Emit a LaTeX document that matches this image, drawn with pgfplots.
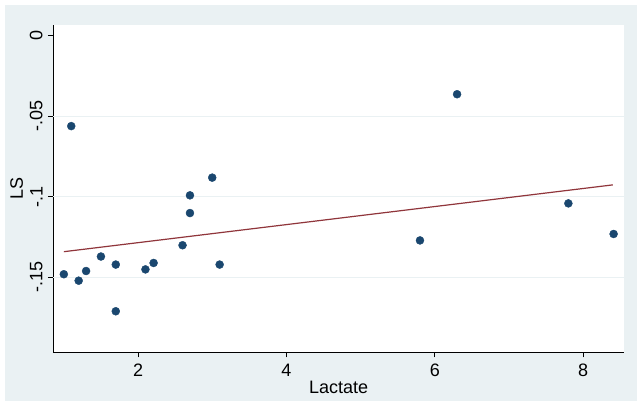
\documentclass[border=0pt]{standalone}
\usepackage{pgfplots}
\pgfplotsset{compat=1.18}
\usepackage{fontspec}
\setmainfont{Liberation Sans}
\definecolor{bgc}{RGB}{234,241,243}
\definecolor{navy}{RGB}{26,71,111}
\definecolor{maroon}{RGB}{144,53,59}
\definecolor{gridc}{RGB}{234,241,243}
\begin{document}
\begin{tikzpicture}
\fill[white] (-53.3pt,-54pt) rectangle (588.7pt,352pt);
\fill[bgc] (-48.3pt,-49pt) rectangle (583.7pt,347pt);
\begin{axis}[
  at={(0pt,0pt)}, anchor=south west,
  scale only axis, width=570.7pt, height=327pt,
  xmin=0.858, xmax=8.55, ymin=-0.1963, ymax=0.0068,
  enlargelimits=false,
  axis x line*=bottom, axis y line*=left,
  axis line style={black, line width=0.9pt, -},
  axis background/.style={fill=white},
  tick align=outside, major tick length=5.5pt,
  tick style={black, line width=0.9pt},
  xtick={2,4,6,8}, xticklabels={2,4,6,8},
  ytick={0,-0.05,-0.1,-0.15}, yticklabels={0,-.05,-.1,-.15},
  extra y ticks={-0.05,-0.1,-0.15}, extra y tick labels={},
  extra y tick style={grid=major, major tick length=0pt, grid style={gridc, line width=1pt}},
  yticklabel style={font=\fontsize{18}{20}\selectfont, xshift=-5pt, rotate=90, anchor=south, inner sep=0pt},
  xticklabel style={font=\fontsize{18}{20}\selectfont, anchor=north, inner sep=0pt, yshift=-6pt},
  xlabel={Lactate}, ylabel={LS},
  every axis x label/.style={at={(axis description cs:0.5,0)}, anchor=center, yshift=-35pt, font=\fontsize{18}{20}\selectfont},
  every axis y label/.style={at={(axis description cs:0,0.5)}, xshift=-36.6pt, rotate=90, anchor=center, font=\fontsize{18}{20}\selectfont},
  clip=false,
]
\addplot[only marks, mark=*, mark size=4pt, mark options={fill=navy, draw=navy}] coordinates {
(1.00,-0.148) (1.20,-0.152) (1.30,-0.146) (1.50,-0.137) (1.70,-0.142) (1.70,-0.171)
(2.10,-0.145) (2.21,-0.141) (2.60,-0.130) (2.70,-0.110) (2.70,-0.099) (3.00,-0.088)
(3.10,-0.142) (1.10,-0.056) (6.30,-0.0362) (5.80,-0.127) (7.80,-0.104) (8.41,-0.123)
};
\addplot[maroon, line width=1.2pt] coordinates {(1.0,-0.134) (8.4,-0.0925)};
\end{axis}
\end{tikzpicture}
\end{document}
